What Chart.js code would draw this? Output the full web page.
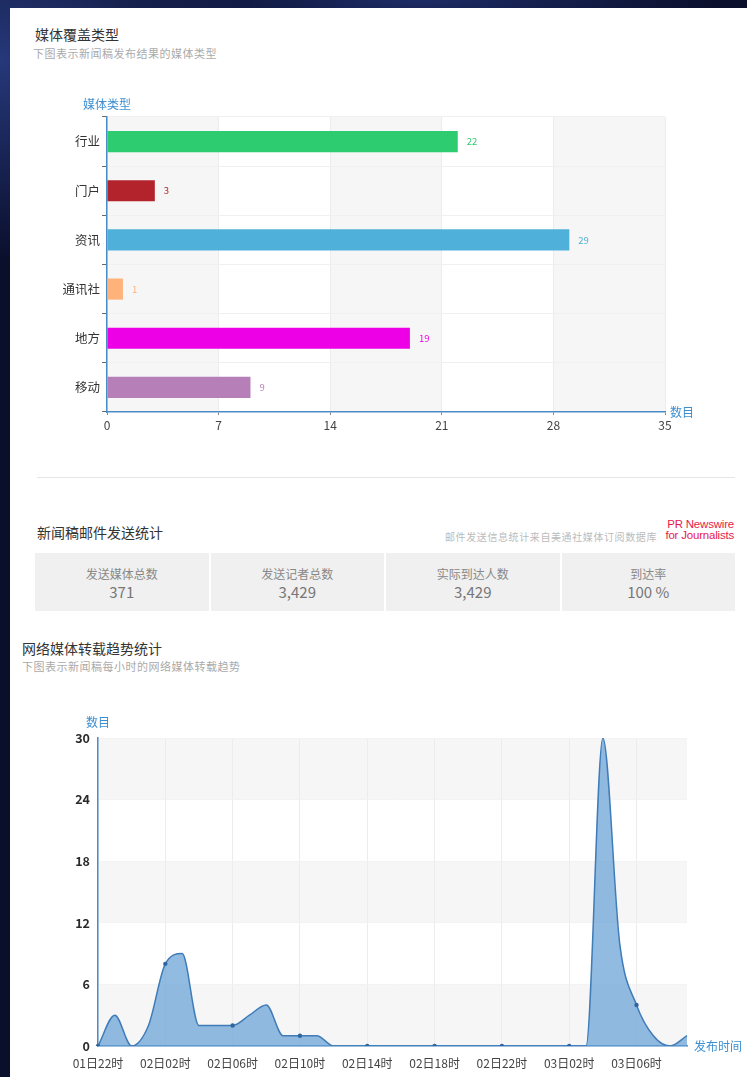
<!DOCTYPE html>
<html>
<head>
<meta charset="utf-8">
<script src="https://cdn.jsdelivr.net/npm/chart.js@4.4.0/dist/chart.umd.min.js"></script>
<style>
html,body{margin:0;padding:0;}
body{width:747px;height:1077px;overflow:hidden;position:relative;
  background:radial-gradient(ellipse 260px 200px at 0px 60px,#26387a 0%,rgba(20,30,80,0) 100%),
             radial-gradient(ellipse 300px 40px at 420px 0px,#1d2c66 0%,rgba(20,30,80,0) 100%),
             #0a0f2c;
  font-family:"Noto Sans CJK SC","Noto Sans",sans-serif;}
#panel{position:absolute;left:10px;top:8px;width:737px;height:1069px;background:#fff;}
.abs{position:absolute;white-space:nowrap;line-height:1;}
.title{font-size:14px;color:#333;}
.sub{font-size:11px;color:#aaa;letter-spacing:0.5px;}
#sep{position:absolute;left:37px;top:477px;width:698px;height:1px;background:#e6e6e6;}
#stats{position:absolute;left:35px;top:553px;width:700px;height:58px;display:flex;}
.cell{flex:1;background:#f0f0f0;text-align:center;border-right:2px solid #fff;}
.cell:last-child{border-right:none;}
.cell .lab{font-size:12px;color:#888;margin-top:14px;line-height:14px;}
.cell .val{font-size:15px;color:#777;margin-top:3px;line-height:16px;}
#logo{position:absolute;left:664px;top:519px;width:70px;color:#e8194b;font-family:"Liberation Sans Narrow","Liberation Sans",sans-serif;font-size:11.5px;line-height:11px;text-align:right;letter-spacing:-0.2px;}
canvas{position:absolute;}
</style>
</head>
<body>
<div id="panel"></div>
<div class="abs title" style="left:35px;top:27px;">媒体覆盖类型</div>
<div class="abs sub" style="left:33px;top:48px;">下图表示新闻稿发布结果的媒体类型</div>
<canvas id="bar" width="700" height="350" style="left:30px;top:90px;"></canvas>
<div id="sep"></div>
<div class="abs title" style="left:37px;top:525px;">新闻稿邮件发送统计</div>
<div class="abs" style="left:445px;top:532px;font-size:10px;color:#bbb;letter-spacing:0.6px;">邮件发送信息统计来自美通社媒体订阅数据库</div>
<div id="logo">PR Newswire<br>for Journalists</div>
<div id="stats"></div>
<div class="abs title" style="left:22px;top:641px;">网络媒体转载趋势统计</div>
<div class="abs sub" style="left:22px;top:661px;">下图表示新闻稿每小时的网络媒体转载趋势</div>
<canvas id="line" width="707" height="377" style="left:40px;top:700px;"></canvas>

<script>
// ---------- data ----------
const mediaTypes = ["行业","门户","资讯","通讯社","地方","移动"];
const mediaCounts = [22,3,29,1,19,9];
const countTicksMax = 35;
const countTicksStep = 7;

const statLabels = ["发送媒体总数","发送记者总数","实际到达人数","到达率"];
const statValues = ["371","3,429","3,429","100 %"];

const hours = ["01日22时","01日23时","02日00时","02日01时","02日02时","02日03时","02日04时","02日05时","02日06时","02日07时","02日08时","02日09时","02日10时","02日11时","02日12时","02日13时","02日14时","02日15时","02日16时","02日17时","02日18时","02日19时","02日20时","02日21时","02日22时","02日23时","03日00时","03日01时","03日02时","03日03时","03日04时","03日05时","03日06时","03日07时","03日08时","03日09时"];
const reposts = [0,3,0,2,8,9,2,2,2,3,4,1,1,1,0,0,0,0,0,0,0,0,0,0,0,0,0,0,0,0,30,10,4,1,0,1];
const repostMax = 30;
const repostStep = 6;

// ---------- stats table ----------
const statsEl = document.getElementById('stats');
statLabels.forEach((l,i)=>{
  const c=document.createElement('div');c.className='cell';
  c.innerHTML='<div class="lab">'+l+'</div><div class="val">'+statValues[i]+'</div>';
  statsEl.appendChild(c);
});

// ---------- shared ----------
const FONT = "'Noto Sans CJK SC','Noto Sans',sans-serif";
const AXIS_BLUE = '#4a8cc8';
const NAME_BLUE = '#3d8fd1';
Chart.defaults.animation = false;
Chart.defaults.font.family = FONT;

const bandsPlugin = {
  id:'bands',
  beforeDraw(chart, args, opts){
    const s = chart.scales[opts.axis];
    const ca = chart.chartArea;
    const ctx = chart.ctx;
    ctx.save();
    ctx.fillStyle = opts.color;
    const ticks = s.ticks;
    for(let i=0;i<ticks.length-1;i++){
      if(i%2!==0) continue;
      const a = s.getPixelForValue(ticks[i].value);
      const b = s.getPixelForValue(ticks[i+1].value);
      if(opts.axis==='x') ctx.fillRect(Math.min(a,b), ca.top, Math.abs(b-a), ca.bottom-ca.top);
      else ctx.fillRect(ca.left, Math.min(a,b), ca.right-ca.left, Math.abs(b-a));
    }
    ctx.restore();
  }
};

const axisNamePlugin = {
  id:'axisNames',
  afterDraw(chart, args, opts){
    const ca = chart.chartArea, ctx = chart.ctx;
    ctx.save();
    ctx.fillStyle = NAME_BLUE;
    ctx.font = '12px ' + FONT;
    ctx.textBaseline = 'middle';
    ctx.textAlign = 'center';
    ctx.fillText(opts.yName, ca.left + (opts.yDx||0), ca.top - opts.yOff);
    ctx.textAlign = 'left';
    ctx.fillText(opts.xName, ca.right + opts.xOff, ca.bottom);
    ctx.restore();
  }
};

// ---------- bar chart ----------
const barColors = ['#2ecc71','#b3232b','#4fb0d9','#ffb27a','#ee00e6','#b77fb8'];
const valueLabelPlugin = {
  id:'valueLabels',
  afterDatasetsDraw(chart){
    const ctx = chart.ctx;
    const meta = chart.getDatasetMeta(0);
    ctx.save();
    ctx.font = '9.5px ' + FONT;
    ctx.textBaseline = 'middle';
    ctx.textAlign = 'left';
    meta.data.forEach((el,i)=>{
      ctx.fillStyle = barColors[i];
      ctx.fillText(String(chart.data.datasets[0].data[i]), el.x + 9, el.y);
    });
    ctx.restore();
  }
};

new Chart(document.getElementById('bar'), {
  type:'bar',
  data:{labels:mediaTypes, datasets:[{data:mediaCounts, backgroundColor:barColors, borderWidth:0,
        barPercentage:0.43, categoryPercentage:1}]},
  options:{
    responsive:false, indexAxis:'y',
    layout:{padding:{top:27,right:65,left:0,bottom:0}},
    plugins:{legend:{display:false}, tooltip:{enabled:false},
      bands:{axis:'x', color:'#f6f6f6'},
      axisNames:{yName:'媒体类型', yOff:13, yDx:0, xName:'数目', xOff:5}},
    scales:{
      x:{min:0, max:countTicksMax,
         ticks:{stepSize:countTicksStep, color:'#444', font:{size:12}, padding:3},
         grid:{color:'#ececec', tickColor:'#888', tickLength:3},
         border:{color:AXIS_BLUE, width:1.5},
         afterFit(s){s.height=28;}},
      y:{ticks:{color:'#333', font:{size:12.5}, padding:2},
         grid:{offset:true, color:'#f0f0f0', tickColor:'#666', tickLength:5},
         border:{color:AXIS_BLUE, width:1.5},
         afterFit(s){s.width=77;}}
    }
  },
  plugins:[bandsPlugin, valueLabelPlugin, axisNamePlugin]
});

// ---------- line chart ----------
new Chart(document.getElementById('line'), {
  type:'line',
  data:{labels:hours, datasets:[{data:reposts, fill:'origin',
    backgroundColor:'rgba(104,161,214,0.72)', borderColor:'#3f7cb8', borderWidth:1.5,
    cubicInterpolationMode:'monotone',
    pointRadius:(c)=> c.dataIndex%4===0 ? 2.2 : 0,
    pointBackgroundColor:'#2f66a0', pointBorderWidth:0}]},
  options:{
    responsive:false,
    layout:{padding:{top:38,right:60,left:0,bottom:0}},
    plugins:{legend:{display:false}, tooltip:{enabled:false},
      bands:{axis:'y', color:'#f6f6f6'},
      axisNames:{yName:'数目', yOff:16, yDx:0, xName:'发布时间', xOff:7}},
    scales:{
      x:{ticks:{autoSkip:false, maxRotation:0, color:'#444', font:{size:12}, padding:10,
           callback:function(v,i){return i%4===0 ? this.getLabelForValue(v) : '';}},
         grid:{drawTicks:false, color:(c)=> (c.index%4===0 ? '#ececec' : 'rgba(0,0,0,0)')},
         border:{color:AXIS_BLUE, width:1.5},
         afterFit(s){s.height=31;}},
      y:{min:0, max:repostMax,
         ticks:{stepSize:repostStep, color:'#2a2a2a', font:{size:12.5, weight:'bold'}, padding:8},
         grid:{drawTicks:false, color:'#f3f3f3'},
         border:{color:AXIS_BLUE, width:1.5},
         afterFit(s){s.width=58;}}
    }
  },
  plugins:[bandsPlugin, axisNamePlugin]
});
</script>
</body>
</html>
